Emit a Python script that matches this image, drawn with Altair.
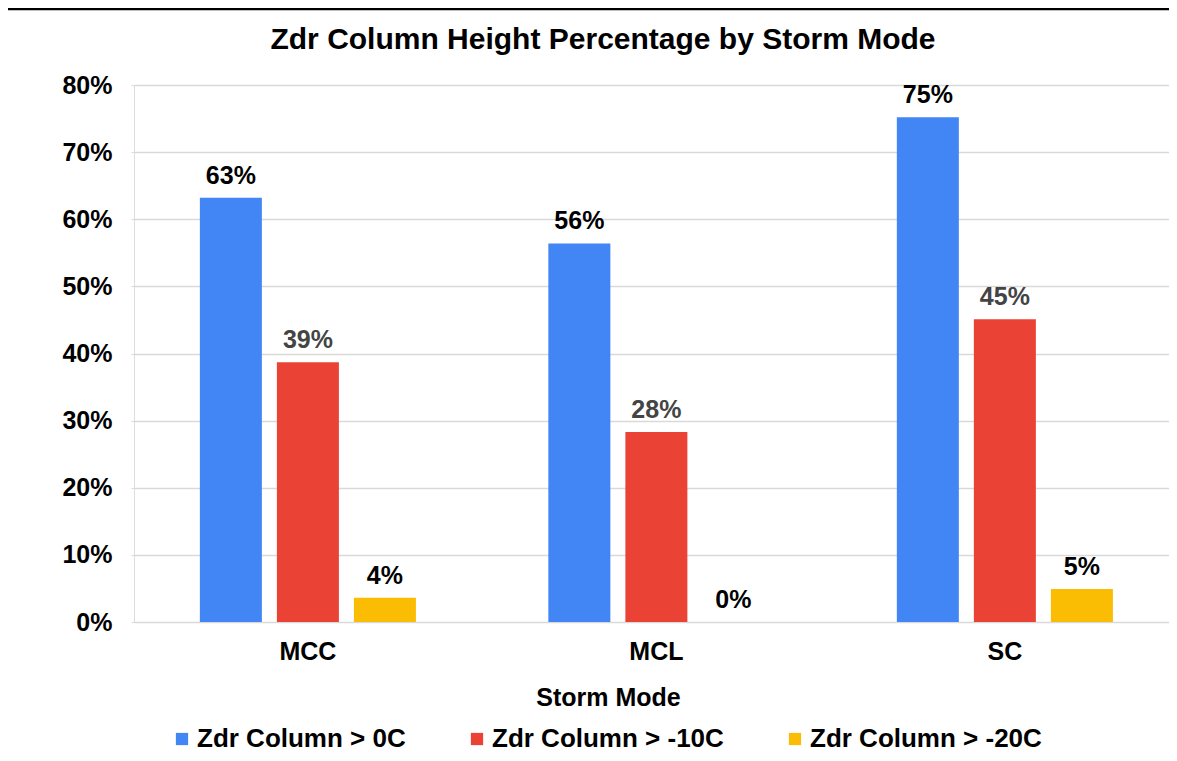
import altair as alt
import pandas as pd

modes = ["MCC", "MCL", "SC"]
series = ["Zdr Column > 0C", "Zdr Column > -10C", "Zdr Column > -20C"]
vals_0c = [0.632, 0.564, 0.752]
vals_10c = [0.387, 0.283, 0.451]
vals_20c = [0.036, 0.0, 0.049]
chart_title = "Zdr Column Height Percentage by Storm Mode"

bar_colors = ["#4285F4", "#EA4335", "#FBBC04"]
label_colors = ["#000000", "#444444", "#000000"]

rows = []
for s, vals in zip(series, [vals_0c, vals_10c, vals_20c]):
    for m, v in zip(modes, vals):
        rows.append({"mode": m, "series": s, "value": v})
df = pd.DataFrame(rows)

FONT = "Liberation Sans"

x_scale = alt.Scale(paddingInner=0.38, paddingOuter=0.175, align=0.54)
x_enc = alt.X(
    "mode:N", sort=modes, title="Storm Mode", scale=x_scale,
    axis=alt.Axis(labelAngle=0, domain=False, ticks=False, labelPadding=17,
                  labelFontSize=25, labelFont=FONT, labelFontWeight="bold",
                  labelColor="#000000", titleFontSize=25, titleFont=FONT,
                  titleFontWeight="bold", titleColor="#000000", titlePadding=21,
                  titleX=474),
)
xoff = alt.XOffset("series:N", sort=series,
                   scale=alt.Scale(paddingInner=0.195, paddingOuter=0))
y_enc = alt.Y(
    "value:Q", title=None,
    scale=alt.Scale(domain=[0, 0.8], nice=False),
    axis=alt.Axis(format=".0%", values=[0, 0.1, 0.2, 0.3, 0.4, 0.5, 0.6, 0.7, 0.8],
                  domain=False, ticks=True, tickSize=3, tickColor="#d9d9d9",
                  labelPadding=19, labelFontSize=25, labelFont=FONT,
                  labelFontWeight="bold", labelColor="#000000",
                  grid=True, gridColor="#d9d9d9", gridWidth=1.5),
)

base = alt.Chart(df)

bars = base.mark_bar().encode(
    x=x_enc, xOffset=xoff, y=y_enc,
    color=alt.Color("series:N", sort=series,
                    scale=alt.Scale(domain=series, range=bar_colors),
                    legend=alt.Legend(title=None, orient="none", direction="horizontal",
                                      legendX=35, legendY=641, padding=0,
                                      symbolType="square", symbolSize=150,
                                      symbolStrokeWidth=0, labelOffset=2,
                                      columnPadding=58, labelFontSize=26,
                                      labelFont=FONT, labelFontWeight="bold",
                                      labelColor="#000000", labelLimit=400)),
)

labels = base.mark_text(baseline="bottom", dy=-9, fontSize=25, font=FONT,
                        fontWeight="bold").encode(
    x=alt.X("mode:N", sort=modes, scale=x_scale), xOffset=xoff, y=alt.Y("value:Q"),
    text=alt.Text("value:Q", format=".0%"),
    color=alt.Color("series:N", sort=series,
                    scale=alt.Scale(domain=series, range=label_colors), legend=None),
)

one = alt.Chart(pd.DataFrame({"t": [chart_title]}))

top_line = one.mark_rule(color="#000000", strokeWidth=2.5).encode(
    x=alt.value(-126), x2=alt.value(1035), y=alt.value(-76))

title_text = one.mark_text(fontSize=30, font=FONT, fontWeight="bold",
                           color="#000000", baseline="alphabetic",
                           align="center").encode(
    text="t:N", x=alt.value(469), y=alt.value(-36))

chart = alt.layer(bars, labels, top_line, title_text).resolve_scale(
    color="independent").properties(
    width=1035, height=537,
    padding={"left": 126, "top": 77, "right": 0, "bottom": 131},
    autosize=alt.AutoSizeParams(type="none"),
).configure_view(stroke=None).configure(background="#ffffff")

chart.save("out.html", embed_options={"renderer": "svg", "actions": False})
